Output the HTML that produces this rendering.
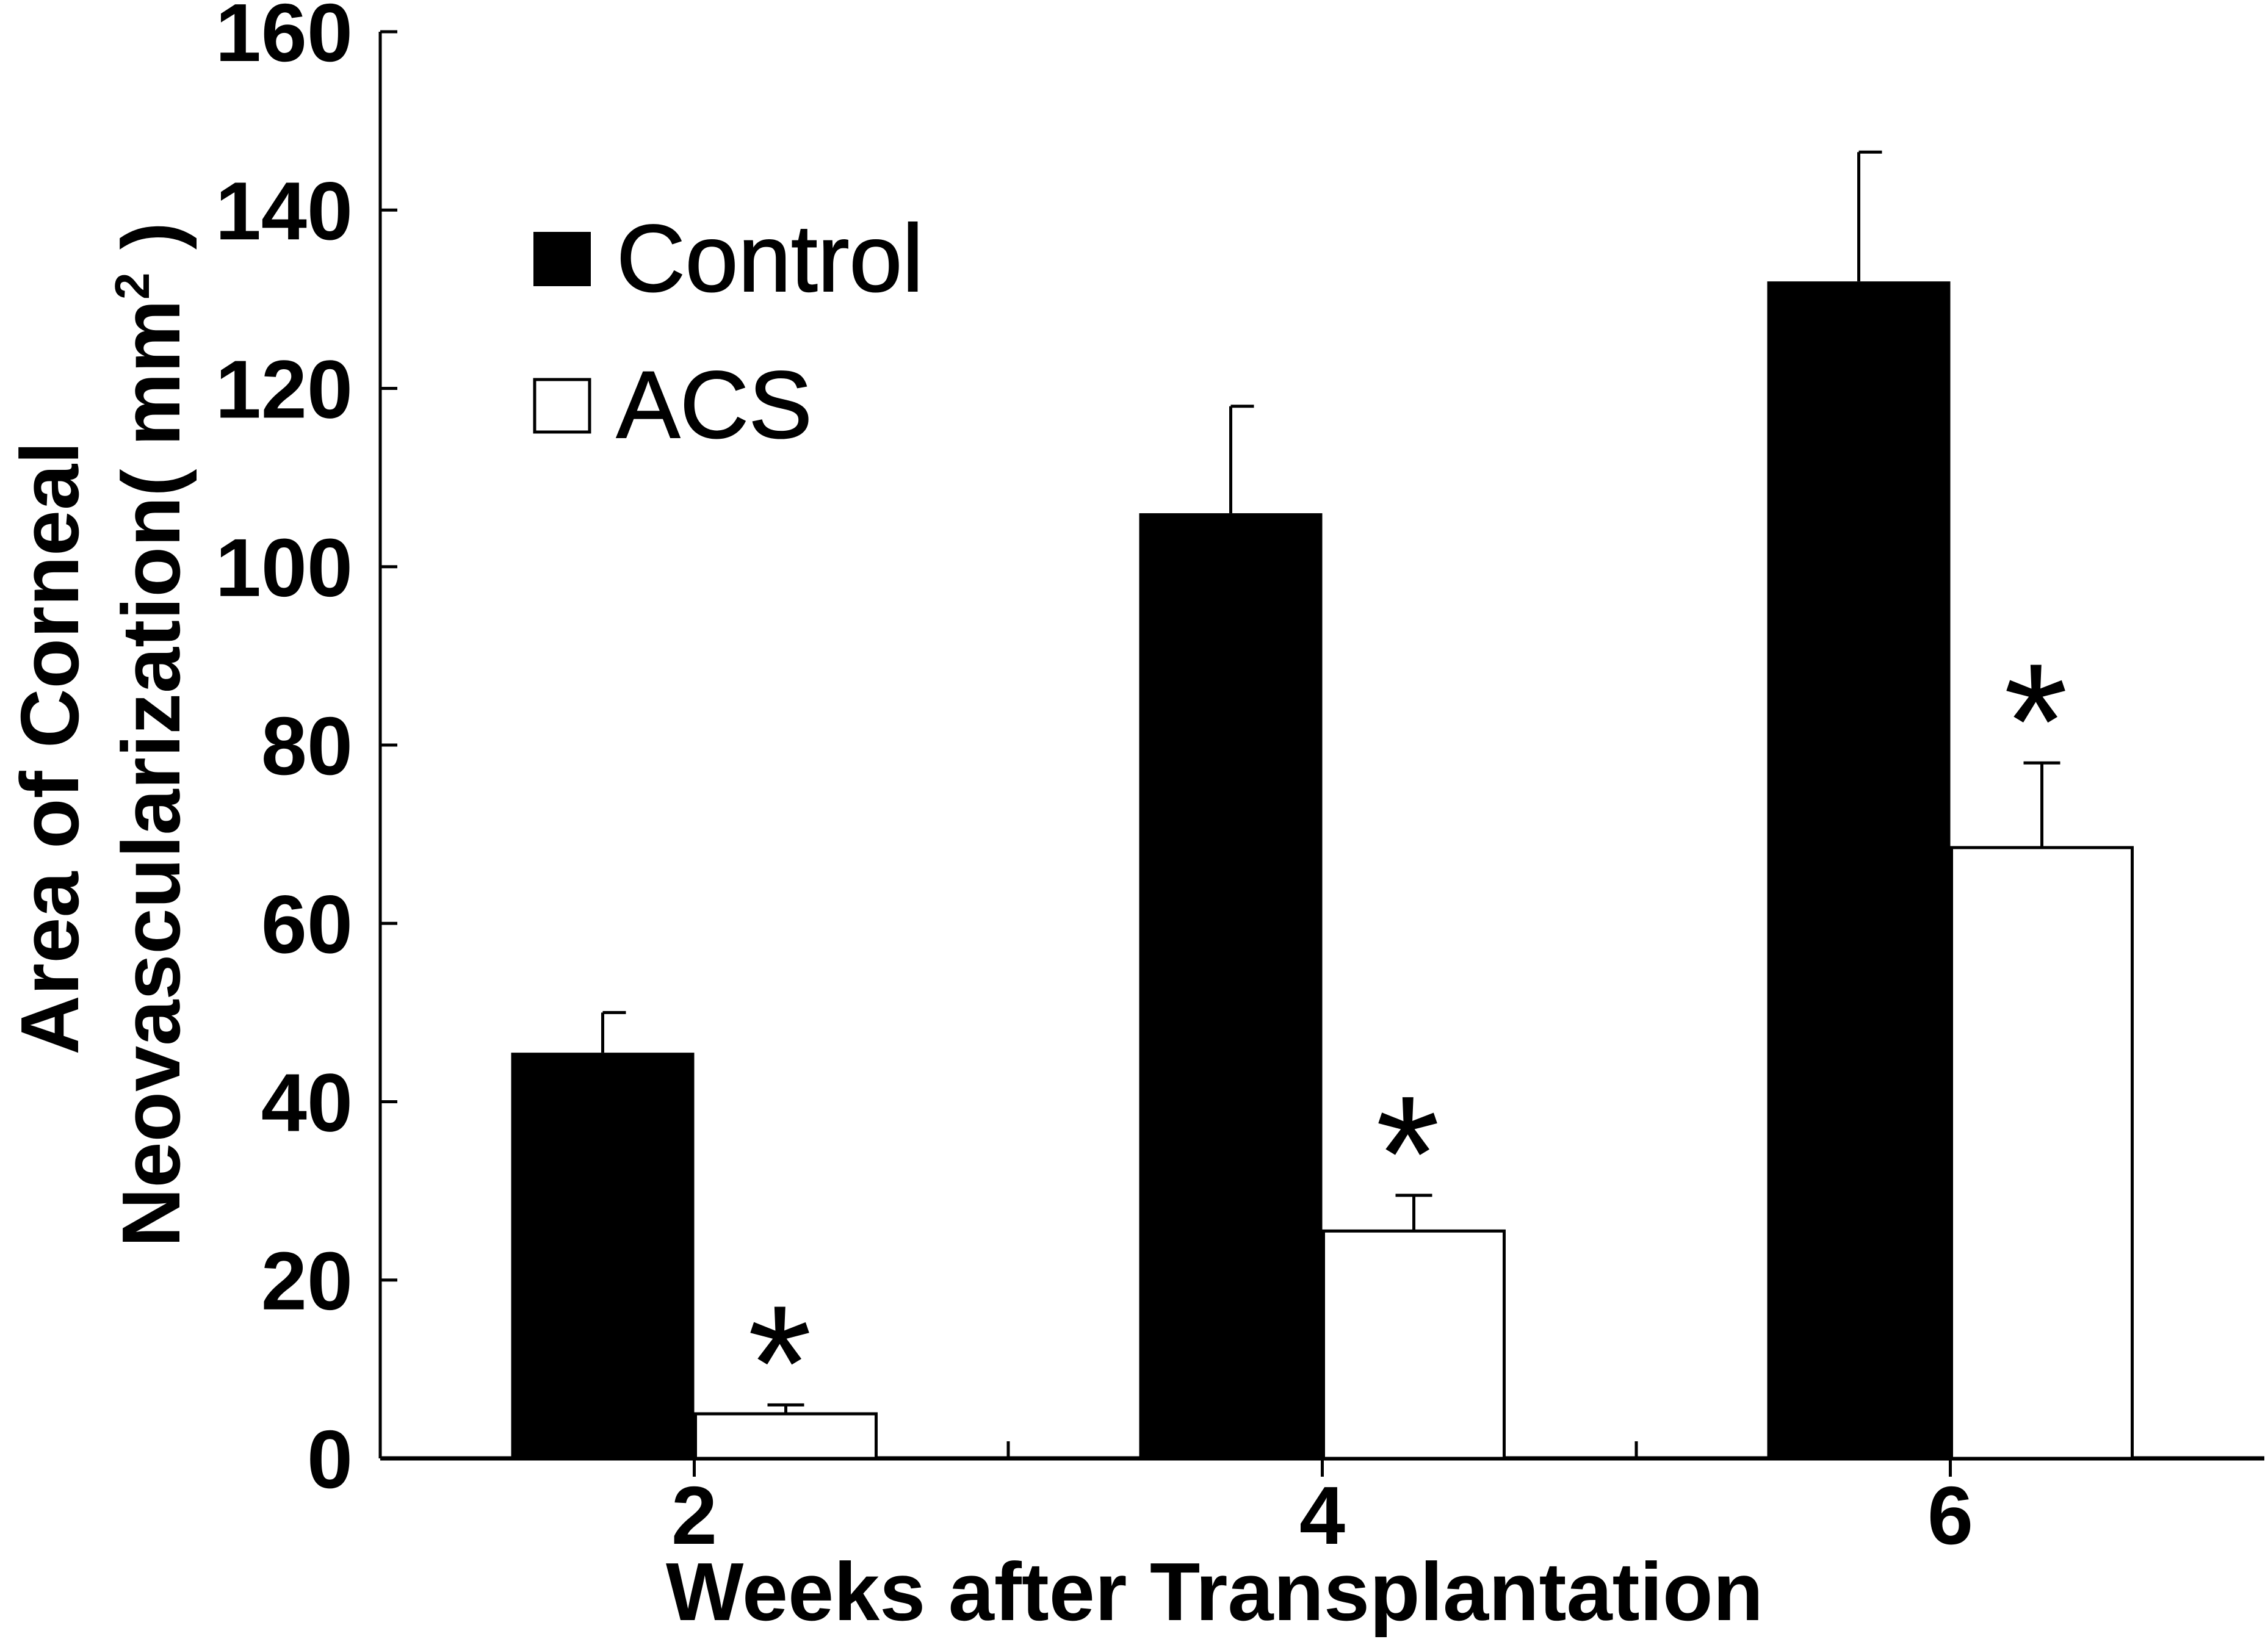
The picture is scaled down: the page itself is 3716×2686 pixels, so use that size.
<!DOCTYPE html>
<html><head><meta charset="utf-8"><style>
html,body{margin:0;padding:0;background:#fff;}
svg{display:block;font-family:"Liberation Sans",Arial,sans-serif;}
</style></head><body>
<svg id="chart" width="3716" height="2686" viewBox="0 0 3716 2686" xmlns="http://www.w3.org/2000/svg">
<g id="axes"></g>
<g id="bars"></g>
<g>
  <rect x="874" y="380" width="94" height="89" fill="#000"/>
  <text x="1010" y="477" font-size="156" stroke="#000" stroke-width="2">Control</text>
  <rect x="876" y="622" width="90" height="86" fill="#fff" stroke="#000" stroke-width="5"/>
  <text x="1010" y="717" font-size="156" stroke="#000" stroke-width="2">ACS</text>
</g>
<text x="1990" y="2655" font-size="135" font-weight="bold" text-anchor="middle">Weeks after Transplantation</text>
<g font-size="135" font-weight="bold" text-anchor="middle">
  <text transform="translate(128,1226) rotate(-90)">Area of Corneal</text>
  <text transform="translate(294,1204) rotate(-90)">Neovascularization( mm<tspan font-size="80" dy="-50">2</tspan><tspan dy="50"> )</tspan></text>
</g>
</svg>
<script>
const categories = ['2','4','6'];
const controlValues = [45.5, 106, 132];
const controlErrors = [4.5, 12, 14.5];
const acsValues = [5, 25.5, 68.5];
const acsErrors = [1, 4, 9.5];
const yTicks = [0,20,40,60,80,100,120,140,160];
const NS='http://www.w3.org/2000/svg';
const X0=623, X1=3710, Y0=2390, Y1=52, YMAX=160;
const catW=(X1-X0)/categories.length;
const yS=v=>Y0-(Y0-Y1)*v/YMAX;
const xC=i=>X0+catW*(i+0.5);
function mk(tag,attrs,parent){const e=document.createElementNS(NS,tag);for(const k in attrs)e.setAttribute(k,attrs[k]);parent.appendChild(e);return e;}
const axes=document.getElementById('axes');
const bars=document.getElementById('bars');
let e;
e=mk('line',{x1:X0,y1:Y0,x2:X0,y2:Y1,stroke:'#000','stroke-width':5},axes);


e=mk('line',{x1:X0,y1:Y0,x2:X1,y2:Y0,stroke:'#000','stroke-width':7},axes);


yTicks.forEach(t=>{
  const y=yS(t);
  const l=mk('line',{x1:X0,y1:y,x2:X0+28,y2:y,stroke:'#000','stroke-width':5},axes);
  
  
  const tx=mk('text',{x:578,y:y+48,'font-size':135,'font-weight':'bold','text-anchor':'end'},axes);
  tx.textContent=t;
  
  
});
for(let i=1;i<categories.length;i++){
  const x=X0+catW*i;
  const l=mk('line',{x1:x,y1:Y0,x2:x,y2:Y0-28,stroke:'#000','stroke-width':5},axes);
  
  
}
const bw=300;
categories.forEach((c,i)=>{
  const cx=xC(i);
  const l=mk('line',{x1:cx,y1:Y0,x2:cx,y2:Y0+30,stroke:'#000','stroke-width':5},axes);
  
  
  const tx=mk('text',{x:cx,y:2530,'font-size':135,'font-weight':'bold','text-anchor':'middle'},axes);
  tx.textContent=c;
  
  
  const cv=controlValues[i], ce=controlErrors[i];
  const bxc=cx-bw;
  const r1=mk('rect',{x:bxc,y:yS(cv),width:bw,height:Y0-yS(cv),fill:'#000'},bars);
  
  
  const ec=mk('path',{d:`M${bxc+bw/2} ${yS(cv)} V${yS(cv+ce)} M${bxc+bw/2} ${yS(cv+ce)} H${bxc+bw/2+38}`,stroke:'#000','stroke-width':5,fill:'none'},bars);
  
  
  const av=acsValues[i], ae=acsErrors[i];
  const bxa=cx;
  const r2=mk('rect',{x:bxa+2,y:yS(av),width:bw-4,height:Y0-yS(av),fill:'#fff',stroke:'#000','stroke-width':5},bars);
  
  
  const ea=mk('path',{d:`M${bxa+bw/2-30} ${yS(av+ae)} H${bxa+bw/2+30} M${bxa+bw/2} ${yS(av)} V${yS(av+ae)}`,stroke:'#000','stroke-width':5,fill:'none'},bars);
  
  
  const st=mk('text',{x:bxa+bw/2-10,y:yS(av+ae)+25,'font-size':270,'text-anchor':'middle'},bars);
  st.textContent='*';
  
  
});
</script>
</body></html>
